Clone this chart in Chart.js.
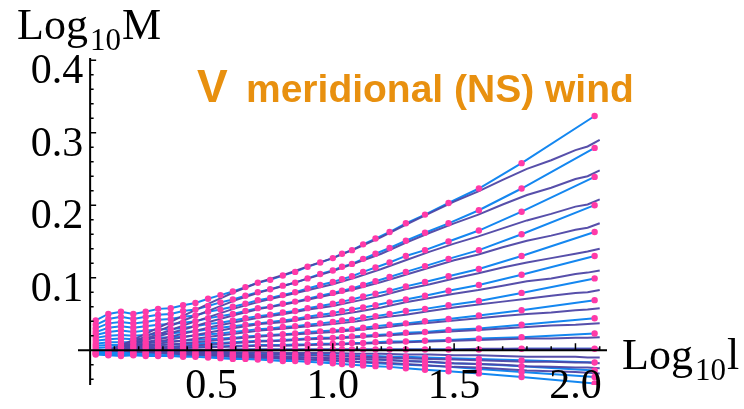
<!DOCTYPE html>
<html>
<head>
<meta charset="utf-8">
<script src="https://cdn.jsdelivr.net/npm/chart.js@4.4.0/dist/chart.umd.min.js"></script>
<style>
  html, body { margin: 0; padding: 0; background: #fff; }
  #chartFrame { width: 744px; height: 409px; }
</style>
</head>
<body>
<div id="chartFrame"><canvas id="myChart" width="744" height="409"></canvas></div>
<script>
// x positions (Log10 l) of the sampled points (magenta dots on the blue lines)
const X_DOT = [0.023, 0.075, 0.127, 0.178, 0.229, 0.280, 0.332, 0.383, 0.434, 0.486,
               0.537, 0.588, 0.640, 0.691, 0.742, 0.794, 0.845, 0.896, 0.948, 1.000,
               1.038, 1.079, 1.125, 1.176, 1.234, 1.301, 1.380, 1.477, 1.602, 1.778, 2.079];
// x positions of the dense (purple) curves
const X_LINE = [0.08, 0.15, 0.2, 0.3, 0.4, 0.5, 0.6, 0.7, 0.8, 0.9, 1.0, 1.1,
                1.2, 1.3, 1.4, 1.5, 1.6, 1.7, 1.8, 1.9, 2.0, 2.05, 2.1];

// blue lines (with dots), Log10 M
const blue01 = [0.041, 0.050, 0.053, 0.050, 0.053, 0.057, 0.058, 0.062, 0.065, 0.071, 0.076, 0.081, 0.087, 0.093, 0.097, 0.103, 0.108, 0.115, 0.121, 0.127, 0.133, 0.138, 0.146, 0.154, 0.163, 0.175, 0.187, 0.203, 0.223, 0.258, 0.323];
const blue02 = [0.035, 0.043, 0.046, 0.043, 0.046, 0.049, 0.050, 0.054, 0.056, 0.061, 0.066, 0.070, 0.075, 0.080, 0.084, 0.089, 0.093, 0.099, 0.105, 0.110, 0.115, 0.119, 0.126, 0.133, 0.141, 0.151, 0.162, 0.175, 0.193, 0.223, 0.279];
const blue03 = [0.030, 0.037, 0.039, 0.037, 0.039, 0.042, 0.043, 0.046, 0.048, 0.053, 0.056, 0.060, 0.064, 0.069, 0.072, 0.076, 0.080, 0.085, 0.090, 0.094, 0.098, 0.102, 0.108, 0.114, 0.121, 0.130, 0.138, 0.150, 0.165, 0.191, 0.239];
const blue04 = [0.025, 0.031, 0.033, 0.031, 0.033, 0.035, 0.036, 0.038, 0.040, 0.044, 0.047, 0.050, 0.054, 0.058, 0.060, 0.064, 0.067, 0.071, 0.075, 0.079, 0.082, 0.085, 0.090, 0.095, 0.101, 0.108, 0.116, 0.126, 0.138, 0.160, 0.200];
const blue05 = [0.021, 0.025, 0.027, 0.025, 0.027, 0.029, 0.029, 0.031, 0.033, 0.036, 0.038, 0.041, 0.044, 0.047, 0.049, 0.052, 0.054, 0.058, 0.061, 0.064, 0.067, 0.070, 0.074, 0.078, 0.082, 0.088, 0.094, 0.102, 0.112, 0.130, 0.163];
const blue06 = [0.017, 0.020, 0.021, 0.020, 0.021, 0.023, 0.023, 0.025, 0.026, 0.029, 0.031, 0.033, 0.035, 0.037, 0.039, 0.041, 0.043, 0.046, 0.049, 0.051, 0.054, 0.056, 0.059, 0.062, 0.066, 0.070, 0.075, 0.082, 0.090, 0.104, 0.130];
const blue07 = [0.013, 0.015, 0.016, 0.015, 0.016, 0.017, 0.018, 0.019, 0.020, 0.022, 0.023, 0.025, 0.027, 0.029, 0.030, 0.032, 0.033, 0.035, 0.037, 0.039, 0.041, 0.042, 0.045, 0.047, 0.050, 0.054, 0.057, 0.062, 0.068, 0.079, 0.099];
const blue08 = [0.009, 0.011, 0.011, 0.011, 0.011, 0.012, 0.012, 0.013, 0.014, 0.015, 0.016, 0.017, 0.019, 0.020, 0.021, 0.022, 0.023, 0.025, 0.026, 0.027, 0.028, 0.029, 0.031, 0.033, 0.035, 0.037, 0.040, 0.043, 0.048, 0.055, 0.069];
const blue09 = [0.006, 0.007, 0.007, 0.007, 0.007, 0.008, 0.008, 0.008, 0.009, 0.010, 0.010, 0.011, 0.012, 0.013, 0.013, 0.014, 0.015, 0.016, 0.017, 0.017, 0.018, 0.019, 0.020, 0.021, 0.022, 0.024, 0.025, 0.028, 0.030, 0.035, 0.044];
const blue10 = [0.003, 0.004, 0.004, 0.004, 0.004, 0.004, 0.004, 0.004, 0.005, 0.005, 0.005, 0.006, 0.006, 0.007, 0.007, 0.007, 0.008, 0.008, 0.009, 0.009, 0.009, 0.010, 0.010, 0.011, 0.012, 0.012, 0.013, 0.014, 0.016, 0.018, 0.023];
const blue11 = [0.000, 0.000, 0.000, 0.000, 0.000, 0.000, 0.000, 0.000, 0.000, 0.000, 0.000, 0.001, 0.001, 0.001, 0.001, 0.001, 0.001, 0.001, 0.001, 0.001, 0.001, 0.001, 0.001, 0.001, 0.001, 0.001, 0.001, 0.001, 0.001, 0.002, 0.002];
const blue12 = [-0.002, -0.003, -0.003, -0.003, -0.003, -0.003, -0.003, -0.003, -0.003, -0.004, -0.004, -0.004, -0.005, -0.005, -0.005, -0.005, -0.006, -0.006, -0.006, -0.007, -0.007, -0.007, -0.008, -0.008, -0.009, -0.009, -0.010, -0.011, -0.012, -0.014, -0.017];
const blue13 = [-0.004, -0.004, -0.005, -0.004, -0.005, -0.005, -0.005, -0.005, -0.006, -0.006, -0.007, -0.007, -0.008, -0.008, -0.008, -0.009, -0.009, -0.010, -0.011, -0.011, -0.012, -0.012, -0.013, -0.013, -0.014, -0.015, -0.016, -0.018, -0.019, -0.022, -0.028];
const blue14 = [-0.005, -0.006, -0.006, -0.006, -0.006, -0.007, -0.007, -0.007, -0.007, -0.008, -0.009, -0.009, -0.010, -0.011, -0.011, -0.012, -0.012, -0.013, -0.014, -0.015, -0.015, -0.016, -0.017, -0.018, -0.019, -0.020, -0.021, -0.023, -0.026, -0.030, -0.037];
const blue15 = [-0.006, -0.007, -0.008, -0.007, -0.008, -0.008, -0.008, -0.009, -0.009, -0.010, -0.011, -0.012, -0.012, -0.013, -0.014, -0.015, -0.015, -0.016, -0.017, -0.018, -0.019, -0.020, -0.021, -0.022, -0.023, -0.025, -0.027, -0.029, -0.032, -0.037, -0.046];

// purple dense curves, Log10 M
const purple01 = [0.000, 0.010, 0.018, 0.034, 0.050, 0.066, 0.081, 0.094, 0.104, 0.116, 0.127, 0.141, 0.156, 0.173, 0.189, 0.205, 0.219, 0.235, 0.250, 0.262, 0.276, 0.281, 0.290];
const purple02 = [0.000, 0.009, 0.015, 0.029, 0.043, 0.056, 0.069, 0.080, 0.089, 0.099, 0.109, 0.121, 0.133, 0.148, 0.162, 0.175, 0.187, 0.201, 0.214, 0.224, 0.236, 0.240, 0.248];
const purple03 = [0.000, 0.007, 0.013, 0.024, 0.036, 0.047, 0.058, 0.067, 0.075, 0.083, 0.091, 0.101, 0.112, 0.124, 0.136, 0.147, 0.157, 0.168, 0.179, 0.188, 0.198, 0.201, 0.208];
const purple04 = [0.000, 0.006, 0.011, 0.021, 0.030, 0.040, 0.049, 0.057, 0.063, 0.070, 0.077, 0.085, 0.094, 0.104, 0.114, 0.124, 0.132, 0.142, 0.151, 0.158, 0.166, 0.169, 0.175];
const purple05 = [0.000, 0.005, 0.009, 0.016, 0.024, 0.032, 0.039, 0.045, 0.050, 0.056, 0.061, 0.068, 0.075, 0.084, 0.091, 0.099, 0.106, 0.114, 0.121, 0.127, 0.133, 0.136, 0.140];
const purple06 = [0.000, 0.004, 0.007, 0.013, 0.019, 0.025, 0.031, 0.036, 0.039, 0.044, 0.048, 0.053, 0.059, 0.066, 0.072, 0.078, 0.083, 0.089, 0.095, 0.099, 0.105, 0.107, 0.110];
const purple07 = [0.000, 0.003, 0.005, 0.010, 0.014, 0.019, 0.023, 0.027, 0.030, 0.033, 0.036, 0.040, 0.045, 0.049, 0.054, 0.059, 0.063, 0.067, 0.071, 0.075, 0.079, 0.080, 0.083];
const purple08 = [0.000, 0.002, 0.004, 0.007, 0.010, 0.013, 0.016, 0.019, 0.021, 0.023, 0.025, 0.028, 0.031, 0.035, 0.038, 0.041, 0.044, 0.047, 0.050, 0.052, 0.055, 0.056, 0.058];
const purple09 = [0.000, 0.001, 0.002, 0.004, 0.006, 0.008, 0.010, 0.012, 0.013, 0.015, 0.016, 0.018, 0.020, 0.022, 0.024, 0.026, 0.028, 0.030, 0.032, 0.034, 0.035, 0.036, 0.037];
const purple10 = [0.000, 0.001, 0.001, 0.002, 0.003, 0.004, 0.005, 0.006, 0.006, 0.007, 0.008, 0.009, 0.010, 0.011, 0.012, 0.013, 0.014, 0.015, 0.016, 0.016, 0.017, 0.017, 0.018];
const purple11 = [0.000, 0.000, 0.000, 0.000, 0.000, 0.000, 0.001, 0.001, 0.001, 0.001, 0.001, 0.001, 0.001, 0.001, 0.001, 0.001, 0.002, 0.002, 0.002, 0.002, 0.002, 0.002, 0.002];
const purple12 = [0.000, 0.000, -0.001, -0.001, -0.002, -0.002, -0.003, -0.003, -0.004, -0.004, -0.004, -0.005, -0.005, -0.006, -0.006, -0.007, -0.007, -0.008, -0.009, -0.009, -0.009, -0.010, -0.010];
const purple13 = [0.000, -0.001, -0.001, -0.002, -0.003, -0.004, -0.005, -0.006, -0.006, -0.007, -0.008, -0.009, -0.010, -0.011, -0.012, -0.013, -0.014, -0.015, -0.016, -0.016, -0.017, -0.017, -0.018];
const purple14 = [0.000, -0.001, -0.002, -0.003, -0.004, -0.006, -0.007, -0.008, -0.009, -0.010, -0.011, -0.012, -0.013, -0.015, -0.016, -0.018, -0.019, -0.020, -0.022, -0.023, -0.024, -0.024, -0.025];
const purple15 = [0.000, -0.001, -0.002, -0.004, -0.006, -0.007, -0.009, -0.010, -0.011, -0.013, -0.014, -0.016, -0.017, -0.019, -0.021, -0.023, -0.024, -0.026, -0.028, -0.029, -0.030, -0.031, -0.032];

// tick labels
const X_TICKS = [0.5, 1.0, 1.5, 2.0];
const X_TICK_LABELS = ['0.5', '1.0', '1.5', '2.0'];
const Y_TICKS = [0.1, 0.2, 0.3, 0.4];
const Y_TICK_LABELS = ['0.1', '0.2', '0.3', '0.4'];

const BLUE = [blue01, blue02, blue03, blue04, blue05, blue06, blue07, blue08,
              blue09, blue10, blue11, blue12, blue13, blue14, blue15];
const PURPLE = [purple01, purple02, purple03, purple04, purple05, purple06, purple07, purple08,
                purple09, purple10, purple11, purple12, purple13, purple14, purple15];

function toPoints(xs, ys) {
    return ys.map((v, i) => ({ x: xs[i], y: v }));
}

var datasets = [];
// magenta dots on top
BLUE.forEach(function (ys) {
    datasets.push({
        data: toPoints(X_DOT, ys),
        showLine: false,
        pointRadius: 3.2,
        pointBackgroundColor: '#ff3aa8',
        pointBorderWidth: 0,
        order: 0
    });
});
PURPLE.forEach(function (ys) {
    datasets.push({
        data: toPoints(X_LINE, ys),
        showLine: true,
        borderColor: 'rgba(78, 70, 165, 0.95)',
        borderWidth: 2,
        pointRadius: 0,
        order: 1
    });
});
BLUE.forEach(function (ys) {
    datasets.push({
        data: toPoints(X_DOT, ys),
        showLine: true,
        borderColor: '#1487f0',
        borderWidth: 2,
        pointRadius: 0,
        order: 2
    });
});

// axes crossing at the origin, Mathematica style, plus the texts
const crossAxes = {
    id: 'crossAxes',
    afterDatasetsDraw(chart) {
        const ctx = chart.ctx;
        const xs = chart.scales.x, ys = chart.scales.y;
        const area = chart.chartArea;
        const x0 = xs.getPixelForValue(0);
        const y0 = ys.getPixelForValue(0);
        ctx.save();
        ctx.strokeStyle = '#000';
        ctx.lineWidth = 2;
        ctx.beginPath();
        ctx.moveTo(area.left, y0); ctx.lineTo(area.right, y0);
        ctx.moveTo(x0, area.top); ctx.lineTo(x0, area.bottom);
        ctx.stroke();

        ctx.lineWidth = 1.5;
        ctx.beginPath();
        for (let i = 1; i <= 21; i++) {
            const px = xs.getPixelForValue(i / 10);
            const len = (i % 5 === 0) ? 7 : 4;
            ctx.moveTo(px, y0); ctx.lineTo(px, y0 - len);
        }
        for (let i = -2; i <= 20; i++) {
            if (i === 0) continue;
            const py = ys.getPixelForValue(i * 0.02);
            const len = (i % 5 === 0) ? 6 : 3.5;
            ctx.moveTo(x0, py); ctx.lineTo(x0 + len, py);
        }
        ctx.stroke();

        ctx.fillStyle = '#000';
        ctx.font = '42px "Liberation Serif", "Times New Roman", serif';
        ctx.textBaseline = 'alphabetic';
        ctx.textAlign = 'right';
        Y_TICKS.forEach((v, i) => {
            ctx.fillText(Y_TICK_LABELS[i], x0 - 7, ys.getPixelForValue(v) + 23);
        });
        ctx.textAlign = 'center';
        X_TICKS.forEach((v, i) => {
            ctx.fillText(X_TICK_LABELS[i], xs.getPixelForValue(v), y0 + 48);
        });

        // axis titles with subscripts
        ctx.textAlign = 'left';
        function subTitle(x, y, a, b, c) {
            ctx.font = '44px "Liberation Serif", serif';
            ctx.fillText(a, x, y);
            x += ctx.measureText(a).width + 2;
            ctx.font = '31px "Liberation Serif", serif';
            ctx.fillText(b, x, y + 11);
            x += ctx.measureText(b).width + 1;
            ctx.font = '44px "Liberation Serif", serif';
            ctx.fillText(c, x, y);
        }
        subTitle(17, 39, 'Log', '10', 'M');
        subTitle(622, 369, 'Log', '10', 'l');

        // chart title
        ctx.fillStyle = '#e8900f';
        ctx.font = 'bold 46px "Liberation Sans", Arial, sans-serif';
        ctx.fillText('V', 197, 102);
        ctx.font = 'bold 39px "Liberation Sans", Arial, sans-serif';
        ctx.fillText('meridional (NS) wind', 246, 102);
        ctx.restore();
    }
};

var ctx = document.getElementById('myChart').getContext('2d');
var myChart = new Chart(ctx, {
    type: 'scatter',
    data: { datasets: datasets },
    options: {
        responsive: false,
        animation: false,
        devicePixelRatio: 1,
        events: [],
        layout: { padding: { left: 78, right: 137, top: 58, bottom: 24 } },
        plugins: { legend: { display: false }, tooltip: { enabled: false } },
        scales: {
            x: { type: 'linear', min: -0.05, max: 2.13, display: false },
            y: { type: 'linear', min: -0.048, max: 0.403, display: false }
        }
    },
    plugins: [crossAxes]
});
</script>
</body>
</html>
